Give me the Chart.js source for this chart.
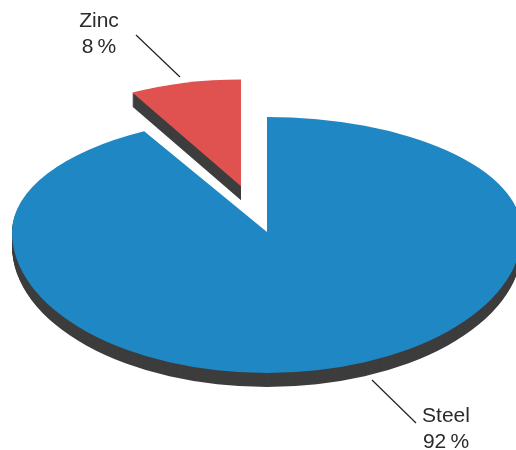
<!DOCTYPE html>
<html>
<head>
<meta charset="utf-8">
<script src="https://cdn.jsdelivr.net/npm/chart.js@4/dist/chart.umd.min.js"></script>
<style>
  html, body { margin: 0; padding: 0; background: #ffffff; }
  #wrap { width: 516px; height: 450px; position: relative; }
</style>
</head>
<body>
<div id="wrap"><canvas id="c"></canvas></div>
<script>
const categories = ['Steel', 'Zinc'];
const values = [92, 8];
const sliceColors = ['#1f88c4', '#e0524f'];
const explode = [0, 0.41];          // fraction of radius each slice is pulled out

// 3D look (styling only)
const SIDE_COLOR = '#3d3d3d';
const CX = 267, CY = 232;           // screen centre of the pie
const RX = 255, RY_BACK = 115, RY_FRONT = 141, DEPTH = 14;
const SHRINK = [[1, 1], [0.885, 0.93]];  // perspective shrink of far slices

const labelSpec = [
  { line: [372, 380, 416, 423], text: [446, 422, 448] },
  { line: [136, 35, 180, 77],  text: [99, 27, 53] }
];

function drawSlice(ctx, arc, i, R, dy, ry, color) {
  const mid = (arc.startAngle + arc.endAngle) / 2;
  const off = arc.options.offset || 0;
  ctx.save();
  ctx.translate(CX, CY + dy);
  ctx.scale(RX / R, ry / R);
  ctx.translate(off * Math.cos(mid), off * Math.sin(mid));
  ctx.scale(SHRINK[i][0], SHRINK[i][1]);
  ctx.beginPath();
  ctx.moveTo(0, 0);
  ctx.arc(0, 0, R, arc.startAngle, arc.endAngle);
  ctx.closePath();
  ctx.fillStyle = color;
  ctx.fill();
  ctx.restore();
}

function drawPiece(ctx, arc, i, R, dy, color, W, H) {
  const off = arc.options.offset || 0;
  if (off > 0) {
    drawSlice(ctx, arc, i, R, dy, RY_BACK, color);
    return;
  }
  // back half (far side)
  ctx.save();
  ctx.beginPath(); ctx.rect(0, 0, W, CY + dy); ctx.clip();
  drawSlice(ctx, arc, i, R, dy, RY_BACK, color);
  ctx.restore();
  // front half (near side, larger due to perspective)
  ctx.save();
  ctx.beginPath(); ctx.rect(0, CY + dy, W, H); ctx.clip();
  drawSlice(ctx, arc, i, R, dy, RY_FRONT, color);
  ctx.restore();
}

const pie3d = {
  id: 'pie3d',
  beforeDatasetsDraw(chart) {
    const ctx = chart.ctx;
    const meta = chart.getDatasetMeta(0);
    const arcs = meta.data;
    const R = arcs[0].outerRadius;
    const W = chart.width, H = chart.height;
    for (let dy = DEPTH; dy >= 1; dy--) {
      arcs.forEach((a, i) => drawPiece(ctx, a, i, R, dy, SIDE_COLOR, W, H));
    }
    arcs.forEach((a, i) => drawPiece(ctx, a, i, R, 0, a.options.backgroundColor, W, H));
    return false;
  },
  afterDraw(chart) {
    const ctx = chart.ctx;
    ctx.save();
    ctx.strokeStyle = '#222222';
    ctx.lineWidth = 1.2;
    ctx.fillStyle = '#2b2b2b';
    ctx.font = '21px "Liberation Sans", Arial, sans-serif';
    ctx.textAlign = 'center';
    ctx.textBaseline = 'alphabetic';
    labelSpec.forEach((s, i) => {
      ctx.beginPath();
      ctx.moveTo(s.line[0], s.line[1]);
      ctx.lineTo(s.line[2], s.line[3]);
      ctx.stroke();
      ctx.fillText(categories[i], s.text[0], s.text[1]);
      ctx.fillText(values[i] + '\u2009%', s.text[0], s.text[2]);
    });
    ctx.restore();
  }
};

new Chart(document.getElementById('c'), {
  type: 'pie',
  data: {
    labels: categories,
    datasets: [{
      data: values,
      backgroundColor: sliceColors,
      borderWidth: 0,
      radius: 150,
      offset: explode.map(f => f * 150)
    }]
  },
  options: {
    responsive: true,
    maintainAspectRatio: false,
    animation: false,
    events: [],
    layout: { padding: 0 },
    plugins: { legend: { display: false }, tooltip: { enabled: false } }
  },
  plugins: [pie3d]
});
</script>
</body>
</html>
